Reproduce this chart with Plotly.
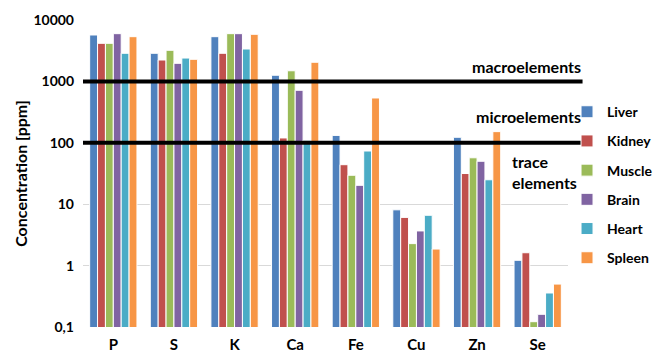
import plotly.graph_objects as go

categories = ["P", "S", "K", "Ca", "Fe", "Cu", "Zn", "Se"]
series_names = ["Liver", "Kidney", "Muscle", "Brain", "Heart", "Spleen"]
liver  = [5700, 2870, 5350, 1260, 132, 8.1, 123, 1.22]
kidney = [4170, 2230, 2870, 120, 44, 6.1, 31.6, 1.62]
muscle = [4170, 3210, 5990, 1490, 29.6, 2.28, 57, 0.122]
brain  = [5990, 1970, 5990, 716, 20.3, 3.67, 50, 0.161]
heart  = [2870, 2400, 3370, 110, 73.5, 6.6, 25, 0.358]
spleen = [5350, 2290, 5850, 2050, 537, 1.86, 152, 0.50]
colors = ["#4F81BD", "#C0504D", "#9BBB59", "#8064A2", "#4BACC6", "#F79646"]
tick_vals = [0.1, 1, 10, 100, 1000, 10000]
tick_text = ["0,1", "1", "10", "100", "1000", "10000"]
threshold_values = [1000, 100]

font_family = "Lato"
all_series = [liver, kidney, muscle, brain, heart, spleen]

fig = go.Figure()
for name, vals, col in zip(series_names, all_series, colors):
    fig.add_trace(go.Bar(
        x=categories, y=vals, name=name, legendgroup=name,
        marker=dict(color=col, line=dict(color="white", width=1)),
    ))

for v in threshold_values:
    fig.add_shape(type="line", xref="paper", yref="y", x0=0, x1=1.03, y0=v, y1=v,
                  line=dict(color="black", width=4), layer="above")

ann_font = dict(family=font_family, size=16, color="black", weight="bold")
fig.add_annotation(xref="paper", yref="paper", x=1.03, y=0.85, text="macroelements",
                   showarrow=False, xanchor="right", yanchor="middle", font=ann_font)
fig.add_annotation(xref="paper", yref="paper", x=1.03, y=0.685, text="microelements",
                   showarrow=False, xanchor="right", yanchor="middle", font=ann_font)
fig.add_annotation(xref="paper", yref="paper", x=0.88, y=0.505, text="trace<br>elements",
                   showarrow=False, xanchor="left", yanchor="middle", align="left", font=ann_font)

fig.update_layout(
    width=654, height=356,
    margin=dict(l=83, r=86, t=20, b=29, autoexpand=False),
    paper_bgcolor="white", plot_bgcolor="white",
    barmode="group", bargap=0.22, bargroupgap=0,
    font=dict(family=font_family, color="black"),
    showlegend=True,
    legend=dict(x=0.998, y=0.752, xanchor="left", yanchor="top",
                font=dict(family=font_family, size=14, color="black", weight="bold"),
                tracegroupgap=8, itemwidth=30, traceorder="grouped",
                bgcolor="rgba(0,0,0,0)"),
    xaxis=dict(showline=False, ticks="", showgrid=False, automargin=False,
               tickfont=dict(family=font_family, size=15, color="black", weight="bold"),
               ticklabelstandoff=7),
    yaxis=dict(type="log", range=[-1, 4], tickvals=tick_vals, ticktext=tick_text,
               showgrid=True, gridcolor="#D9D9D9", gridwidth=1, automargin=False,
               zeroline=False, showline=False, ticks="",
               tickfont=dict(family=font_family, size=14, color="black", weight="bold"),
               ticklabelstandoff=8,
               title=dict(text="Concentration [ppm]", standoff=1,
                          font=dict(family=font_family, size=16, color="black", weight="bold"))),
)

fig.write_html("out.html", config={"displayModeBar": False},
               post_script="document.body.style.margin='0';document.body.style.padding='0';")
